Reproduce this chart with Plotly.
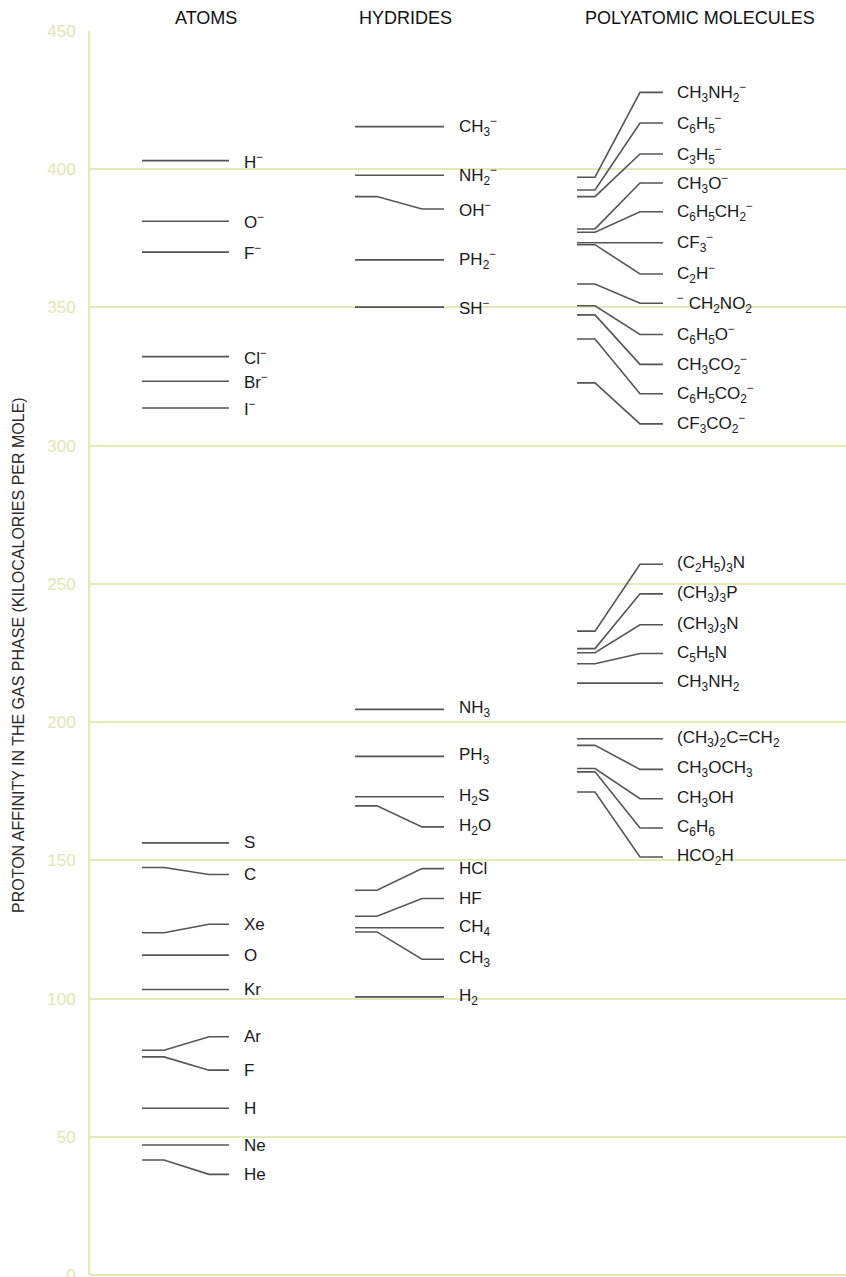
import plotly.graph_objects as go

# Proton affinities (kcal/mol): "value" is the measured level (left end of each
# line); "label_at" is where the name sits on the right (spread apart for legibility).
atom_names = ["H<sup>−</sup>", "O<sup>−</sup>", "F<sup>−</sup>", "Cl<sup>−</sup>", "Br<sup>−</sup>", "I<sup>−</sup>",
              "S", "C", "Xe", "O", "Kr", "Ar", "F", "H", "Ne", "He"]
atom_values = [403.1, 381.2, 370.0, 332.2, 323.3, 313.6,
               156.3, 147.4, 123.8, 115.7, 103.3, 81.3, 78.9, 60.3, 47.0, 41.6]
atom_label_at = [403.1, 381.2, 370.0, 332.2, 323.3, 313.6,
                 156.3, 144.9, 126.9, 115.7, 103.3, 86.2, 74.1, 60.3, 47.0, 36.4]

hydride_names = ["CH<sub>3</sub><sup>−</sup>", "NH<sub>2</sub><sup>−</sup>", "OH<sup>−</sup>",
                 "PH<sub>2</sub><sup>−</sup>", "SH<sup>−</sup>",
                 "NH<sub>3</sub>", "PH<sub>3</sub>", "H<sub>2</sub>S", "H<sub>2</sub>O",
                 "HCl", "HF", "CH<sub>4</sub>", "CH<sub>3</sub>", "H<sub>2</sub>"]
hydride_values = [415.4, 397.8, 390.1, 367.2, 350.1,
                  204.6, 187.6, 173.0, 169.7, 139.2, 129.8, 125.6, 124.1, 100.6]
hydride_label_at = [415.4, 397.8, 385.6, 367.2, 350.1,
                    204.6, 187.6, 173.0, 162.1, 147.0, 136.2, 125.6, 114.2, 100.6]

poly_names = ["CH<sub>3</sub>NH<sub>2</sub><sup>−</sup>", "C<sub>6</sub>H<sub>5</sub><sup>−</sup>",
              "C<sub>3</sub>H<sub>5</sub><sup>−</sup>", "CH<sub>3</sub>O<sup>−</sup>",
              "C<sub>6</sub>H<sub>5</sub>CH<sub>2</sub><sup>−</sup>", "CF<sub>3</sub><sup>−</sup>",
              "C<sub>2</sub>H<sup>−</sup>", "<sup>−</sup> CH<sub>2</sub>NO<sub>2</sub>",
              "C<sub>6</sub>H<sub>5</sub>O<sup>−</sup>", "CH<sub>3</sub>CO<sub>2</sub><sup>−</sup>",
              "C<sub>6</sub>H<sub>5</sub>CO<sub>2</sub><sup>−</sup>", "CF<sub>3</sub>CO<sub>2</sub><sup>−</sup>",
              "(C<sub>2</sub>H<sub>5</sub>)<sub>3</sub>N", "(CH<sub>3</sub>)<sub>3</sub>P",
              "(CH<sub>3</sub>)<sub>3</sub>N", "C<sub>5</sub>H<sub>5</sub>N", "CH<sub>3</sub>NH<sub>2</sub>",
              "(CH<sub>3</sub>)<sub>2</sub>C=CH<sub>2</sub>", "CH<sub>3</sub>OCH<sub>3</sub>",
              "CH<sub>3</sub>OH", "C<sub>6</sub>H<sub>6</sub>", "HCO<sub>2</sub>H"]
poly_values = [397.1, 392.5, 390.1, 378.4, 377.2, 373.4, 372.7, 358.5, 350.6, 347.3, 338.6, 322.7,
               232.9, 226.6, 225.1, 221.1, 214.1, 194.0, 191.6, 183.2, 182.0, 174.7]
poly_label_at = [427.8, 416.7, 405.5, 395.0, 384.6, 373.4, 362.1, 351.5, 340.2, 329.4, 318.8, 307.9,
                 257.1, 246.4, 235.2, 224.8, 214.1, 194.0, 182.9, 172.3, 161.7, 151.2]

column_titles = ["ATOMS", "HYDRIDES", "POLYATOMIC MOLECULES"]
y_ticks = [0, 50, 100, 150, 200, 250, 300, 350, 400, 450]

# Horizontal geometry of each column (x axis runs in pixel-like units)
columns = [
    dict(names=atom_names, values=atom_values, label_at=atom_label_at,
         xs=(142, 164, 209, 229), label_x=242, title_x=206),
    dict(names=hydride_names, values=hydride_values, label_at=hydride_label_at,
         xs=(355, 377, 422, 444), label_x=457, title_x=405),
    dict(names=poly_names, values=poly_values, label_at=poly_label_at,
         xs=(577, 595, 640, 663), label_x=675, title_x=700),
]

GRID = "#e3eab6"
LINE = "#555555"
FONT = "Liberation Sans, Arial, sans-serif"

fig = go.Figure()
annotations = []
for col in columns:
    x0, x1, x2, x3 = col["xs"]
    xs, ys = [], []
    for v, lab in zip(col["values"], col["label_at"]):
        xs += [x0, x1, x2, x3, None]
        ys += [v, v, lab, lab, None]
    fig.add_trace(go.Scatter(x=xs, y=ys, mode="lines", line=dict(color=LINE, width=1.6),
                             hoverinfo="skip", showlegend=False))
    for name, lab in zip(col["names"], col["label_at"]):
        annotations.append(dict(x=col["label_x"], y=lab, xref="x", yref="y", text=name,
                                showarrow=False, xanchor="left", yanchor="middle",
                                font=dict(family=FONT, size=17, color="#1a1a1a")))

for title, col in zip(column_titles, columns):
    annotations.append(dict(x=col["title_x"], y=1, xref="x", yref="paper", yshift=13,
                            text=title, showarrow=False, xanchor="center", yanchor="middle",
                            font=dict(family=FONT, size=18, color="#111111")))

annotations.append(dict(x=0, y=0.5, xref="paper", yref="paper", xshift=-72, yshift=-2, text=
                        "PROTON AFFINITY IN THE GAS PHASE (KILOCALORIES PER MOLE)",
                        textangle=-90, showarrow=False, xanchor="center", yanchor="middle",
                        font=dict(family=FONT, size=16, color="#2a2a2a")))

fig.update_layout(
    width=846, height=1277,
    margin=dict(l=90, r=0, t=31, b=2, autoexpand=False),
    paper_bgcolor="white", plot_bgcolor="white",
    annotations=annotations,
    xaxis=dict(range=[90, 846], visible=False, fixedrange=True, automargin=False),
    yaxis=dict(range=[0, 450], tickvals=y_ticks, showgrid=True, gridcolor=GRID, gridwidth=2,
               zeroline=True, zerolinecolor=GRID, zerolinewidth=2,
               showline=True, linecolor=GRID, linewidth=2, ticks="",
               ticklabelstandoff=9, ticklabeloverflow="allow", automargin=False,
               tickfont=dict(family=FONT, size=17, color="#dfe7b0")),
)

fig.write_html("out.html")
